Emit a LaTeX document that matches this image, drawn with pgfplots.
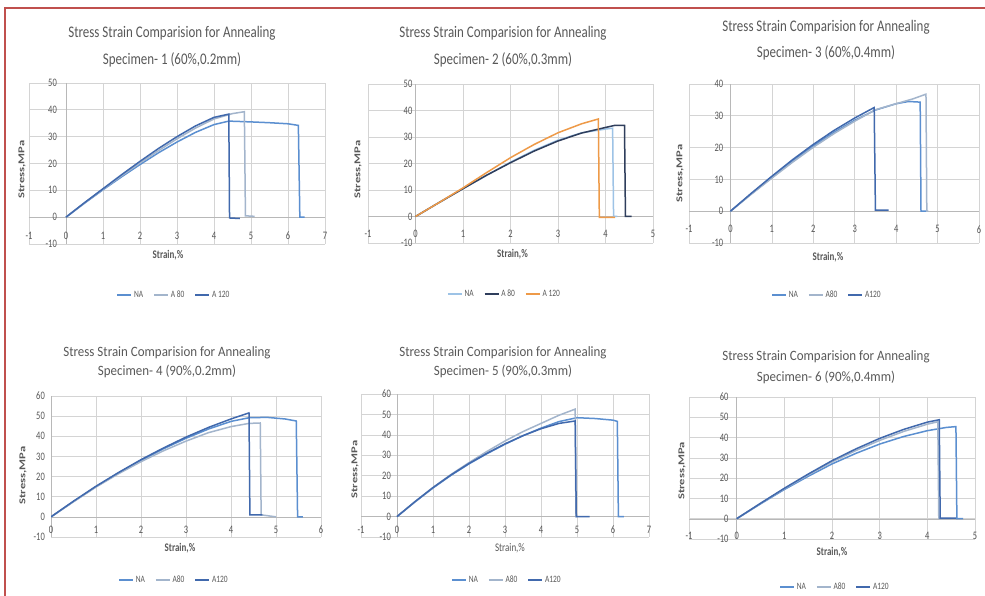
\documentclass[border=0pt]{standalone}
\usepackage{fontspec}
\setmainfont{Carlito}
\usepackage{graphicx}
\usepackage{pgfplots}
\pgfplotsset{compat=1.18}
\definecolor{gridgray}{HTML}{D4D4D4}
\definecolor{axisgray}{HTML}{B8B8B8}
\definecolor{txtgray}{HTML}{595959}
\definecolor{frame}{HTML}{C0504D}
\definecolor{bMed}{HTML}{5B8FD0}
\definecolor{bGray}{HTML}{A3B5CC}
\definecolor{bDark}{HTML}{4169AD}
\definecolor{nLight}{HTML}{9DC3E6}
\definecolor{nNavy}{HTML}{2F3E5C}
\definecolor{nOrange}{HTML}{EE9A48}
\pgfplotsset{
 panel/.style={
  scale only axis,
  axis lines=middle,
  axis line style={draw=axisgray,-},
  every inner x axis line/.append style={-},
  every inner y axis line/.append style={-},
  grid=major,
  major grid style={draw=gridgray,line width=0.7bp},
  major tick length=0pt,
  hide obscured x ticks=false, hide obscured y ticks=false,
  /pgf/number format/assume math mode=true,
  xticklabel={\scalebox{1}[1.35]{\pgfmathprintnumber{\tick}}},
  yticklabel={\scalebox{1}[1.35]{\pgfmathprintnumber{\tick}}},
  tick label style={font=\fontsize{8.5}{9}\selectfont, text=txtgray, inner sep=0pt},
  xticklabel style={anchor=center},
  yticklabel style={anchor=east},
  xlabel style={at={(rel axis cs:0.5,0)}, anchor=center, font=\bfseries\fontsize{9}{10}\selectfont, text=txtgray},
  ylabel style={at={(rel axis cs:0,0.5)}, anchor=center, font=\bfseries\fontsize{9}{10}\selectfont, text=txtgray},
  legend style={at={(rel axis cs:0.5,0)}, anchor=center, draw=none, fill=none, legend columns=3,
    font=\fontsize{7.5}{9}\selectfont, text=txtgray,
    /tikz/every even column/.append style={column sep=8bp}},
  legend image code/.code={\draw[#1,line width=1.6bp] (0bp,0bp) -- (14bp,0bp);},
  every axis plot/.append style={line width=1.5bp, mark=none},
  xlabel={\scalebox{1}[1.3]{Strain,\%}}, ylabel={\scalebox{1.4}[1]{Stress,MPa}},
 }
}
\newcommand{\tA}{Stress Strain Comparision for Annealing}
\newcommand{\lgd}[1]{\scalebox{1}[1.3]{#1}}
\begin{document}
\begin{tikzpicture}
\useasboundingbox (0bp,0bp) rectangle (985bp,596bp);
\fill[white] (0bp,0bp) rectangle (985bp,596bp);
\draw[frame,line width=1.5bp] (5bp,0bp) -- (5bp,588bp) -- (985bp,588bp);

% ---------- Panel 1 ----------
\node[font=\fontsize{13}{14}\selectfont,text=txtgray] at (172bp,563bp) {\scalebox{1}[1.25]{\tA}};
\node[font=\fontsize{13}{14}\selectfont,text=txtgray] at (172bp,536bp) {\scalebox{1}[1.25]{Specimen- 1 (60\%,0.2mm)}};
\begin{axis}[panel, at={(29bp,352bp)}, anchor=south west, width=296bp, height=161bp,
  xmin=-1,xmax=7,ymin=-10,ymax=50, xtick={-1,...,7}, ytick={-10,0,...,50},
  xticklabel style={yshift=-19bp}, yticklabel style={xshift=-9bp},
  xlabel style={xshift=-9bp,yshift=-11bp}, ylabel style={xshift=-7bp,yshift=-6bp,rotate=90},
  legend style={xshift=-3bp,yshift=-51bp}]
\addplot[bMed] coordinates {(0,0) (0.5,5.2) (1,10.2) (1.5,15) (2,19.6) (2.5,24) (3,28) (3.5,31.6) (4,34.5) (4.4,35.8) (5,35.5) (5.5,35.2) (6,34.8) (6.28,34.2) (6.32,0) (6.45,0)};
\addlegendentry{\lgd{NA}}
\addplot[bGray] coordinates {(0,0) (0.5,5.3) (1,10.4) (1.5,15.4) (2,20.2) (2.5,24.8) (3,29.2) (3.5,33.2) (4,36.6) (4.5,38.6) (4.82,39.3) (4.85,0.5) (5.1,0.3)};
\addlegendentry{\lgd{A 80}}
\addplot[bDark] coordinates {(0,0) (0.5,5.4) (1,10.6) (1.5,15.8) (2,20.8) (2.5,25.6) (3,30) (3.5,34) (4,37.2) (4.4,38.4) (4.42,-0.3) (4.7,-0.5)};
\addlegendentry{\lgd{A 120}}
\end{axis}

% ---------- Panel 2 ----------
\node[font=\fontsize{13}{14}\selectfont,text=txtgray] at (503bp,563bp) {\scalebox{1}[1.25]{\tA}};
\node[font=\fontsize{13}{14}\selectfont,text=txtgray] at (503bp,536bp) {\scalebox{1}[1.25]{Specimen- 2 (60\%,0.3mm)}};
\begin{axis}[panel, at={(368bp,353bp)}, anchor=south west, width=285bp, height=159bp,
  xmin=-1,xmax=5,ymin=-10,ymax=50, xtick={-1,...,5}, ytick={-10,0,...,50},
  xticklabel style={yshift=-17bp}, yticklabel style={xshift=-3bp},
  xlabel style={xshift=2bp,yshift=-11bp}, ylabel style={xshift=-10bp,yshift=-6bp,rotate=90},
  legend style={xshift=-6bp,yshift=-51bp}]
\addplot[nLight] coordinates {(0,0) (0.5,5.3) (1,10.5) (1.5,15.6) (2,20.5) (2.5,25) (3,28.8) (3.5,31.6) (4,33) (4.15,33.3) (4.17,0) (4.25,0)};
\addlegendentry{\lgd{NA}}
\addplot[nNavy] coordinates {(0,0) (0.5,5.3) (1,10.5) (1.5,15.6) (2,20.3) (2.5,24.7) (3,28.5) (3.5,31.5) (4,33.6) (4.2,34.4) (4.4,34.4) (4.42,0) (4.55,0)};
\addlegendentry{\lgd{A 80}}
\addplot[nOrange] coordinates {(0,0) (0.5,5.3) (1,10.8) (1.5,16.6) (2,22.2) (2.5,27.2) (3,31.6) (3.5,35) (3.85,36.8) (3.87,-0.3) (4.2,-0.3)};
\addlegendentry{\lgd{A 120}}
\end{axis}

% ---------- Panel 3 ----------
\node[font=\fontsize{13}{14}\selectfont,text=txtgray] at (826bp,569bp) {\scalebox{1}[1.25]{\tA}};
\node[font=\fontsize{13}{14}\selectfont,text=txtgray] at (826bp,543bp) {\scalebox{1}[1.25]{Specimen- 3 (60\%,0.4mm)}};
\begin{axis}[panel, at={(689bp,353bp)}, anchor=south west, width=290bp, height=159bp,
  xmin=-1,xmax=6,ymin=-10,ymax=40, xtick={-1,...,6}, ytick={-10,0,...,40},
  xticklabel style={yshift=-18bp}, yticklabel style={xshift=-7bp},
  xlabel style={xshift=-6bp,yshift=-14bp}, ylabel style={xshift=-9bp,yshift=-10bp,rotate=90},
  legend style={xshift=-7bp,yshift=-52bp}]
\addplot[bMed] coordinates {(0,0) (0.5,5.4) (1,10.6) (1.5,15.7) (2,20.5) (2.5,24.8) (3,28.6) (3.5,31.8) (4,33.8) (4.3,34.5) (4.58,34.3) (4.6,0) (4.72,0)};
\addlegendentry{\lgd{NA}}
\addplot[bGray] coordinates {(0,0) (0.5,5.3) (1,10.4) (1.5,15.4) (2,20.1) (2.5,24.4) (3,28.3) (3.5,31.9) (4,33.8) (4.4,35.3) (4.72,36.8) (4.74,0) (4.78,0)};
\addlegendentry{\lgd{A80}}
\addplot[bDark] coordinates {(0,0) (0.5,5.6) (1,11) (1.5,16.2) (2,21) (2.5,25.4) (3,29.3) (3.47,32.6) (3.5,0.3) (3.82,0.3)};
\addlegendentry{\lgd{A120}}
\end{axis}

% ---------- Panel 4 ----------
\node[font=\fontsize{13}{14}\selectfont,text=txtgray] at (167bp,243bp) {\scalebox{1}[1.1]{\tA}};
\node[font=\fontsize{13}{14}\selectfont,text=txtgray] at (167bp,225bp) {\scalebox{1}[1.1]{Specimen- 4 (90\%,0.2mm)}};
\begin{axis}[panel, at={(51bp,59bp)}, anchor=south west, width=270bp, height=141bp,
  xmin=0,xmax=6,ymin=-10,ymax=60, xtick={0,...,6}, ytick={-10,0,...,60},
  xticklabel style={yshift=-13bp}, yticklabel style={xshift=-6bp},
  xlabel style={xshift=-6bp,yshift=-11bp}, ylabel style={xshift=-28bp,yshift=-9bp,rotate=90},
  legend style={xshift=-12bp,yshift=-43bp}]
\addplot[bMed] coordinates {(0,0) (0.5,7.6) (1,15) (1.5,21.8) (2,28) (2.5,33.8) (3,39) (3.5,43.6) (4,47.4) (4.4,49.2) (4.8,49.4) (5.2,48.6) (5.45,47.6) (5.48,0) (5.6,0)};
\addlegendentry{\lgd{NA}}
\addplot[bGray] coordinates {(0,0) (0.5,7.5) (1,14.8) (1.5,21.4) (2,27.4) (2.5,32.8) (3,37.6) (3.5,41.8) (4,44.8) (4.4,46.4) (4.65,46.6) (4.67,1) (5,0)};
\addlegendentry{\lgd{A80}}
\addplot[bDark] coordinates {(0,0) (0.5,7.8) (1,15.2) (1.5,22) (2,28.4) (2.5,34.2) (3,39.6) (3.5,44.4) (4,48.6) (4.4,51.6) (4.42,1) (4.7,1)};
\addlegendentry{\lgd{A120}}
\end{axis}

% ---------- Panel 5 ----------
\node[font=\fontsize{13}{14}\selectfont,text=txtgray] at (503bp,243bp) {\scalebox{1}[1.1]{\tA}};
\node[font=\fontsize{13}{14}\selectfont,text=txtgray] at (503bp,225bp) {\scalebox{1}[1.1]{Specimen- 5 (90\%,0.3mm)}};
\begin{axis}[panel, at={(361bp,59bp)}, anchor=south west, width=288bp, height=143bp,
  xmin=-1,xmax=7,ymin=-10,ymax=60, xtick={-1,...,7}, ytick={-10,0,...,60},
  xticklabel style={yshift=-13bp}, yticklabel style={xshift=-6bp},
  xlabel style={xshift=5bp,yshift=-11bp,font=\fontsize{9}{10}\selectfont}, ylabel style={xshift=-6bp,yshift=-4bp,rotate=90},
  legend style={xshift=2bp,yshift=-43bp}]
\addplot[bMed] coordinates {(0,0) (0.5,7.2) (1,14) (1.5,20.2) (2,25.8) (2.5,30.8) (3,35.4) (3.5,39.6) (4,43.3) (4.5,46.5) (5,48.4) (5.5,48) (6,47.2) (6.12,46.6) (6.15,0) (6.3,0)};
\addlegendentry{\lgd{NA}}
\addplot[bGray] coordinates {(0,0) (0.5,7.3) (1,14.2) (1.5,20.6) (2,26.4) (2.5,31.9) (3,37) (3.5,41.6) (4,45.6) (4.5,49.6) (4.95,52.6) (4.97,0) (5,0)};
\addlegendentry{\lgd{A80}}
\addplot[bDark] coordinates {(0,0) (0.5,7.3) (1,14.2) (1.5,20.4) (2,26) (2.5,31) (3,35.6) (3.5,39.6) (4,43) (4.5,45.6) (4.95,46.8) (4.98,0) (5.35,0)};
\addlegendentry{\lgd{A120}}
\end{axis}

% ---------- Panel 6 ----------
\node[font=\fontsize{13}{14}\selectfont,text=txtgray] at (826bp,239bp) {\scalebox{1}[1.1]{\tA}};
\node[font=\fontsize{13}{14}\selectfont,text=txtgray] at (826bp,219bp) {\scalebox{1}[1.1]{Specimen- 6 (90\%,0.4mm)}};
\begin{axis}[panel, at={(689bp,57bp)}, anchor=south west, width=286bp, height=142bp,
  xmin=-1,xmax=5,ymin=-10,ymax=60, xtick={-1,...,5}, ytick={-10,0,...,60},
  xticklabel style={yshift=-17bp}, yticklabel style={xshift=-8bp},
  xlabel style={xshift=0bp,yshift=-13bp}, ylabel style={xshift=-7bp,yshift=-3bp,rotate=90},
  legend style={xshift=3bp,yshift=-48bp}]
\addplot[bMed] coordinates {(0,0) (0.5,7.3) (1,14.4) (1.5,20.9) (2,27) (2.5,32.2) (3,36.8) (3.5,40.5) (4,43.4) (4.4,45) (4.6,45.4) (4.62,0) (4.75,0)};
\addlegendentry{\lgd{NA}}
\addplot[bGray] coordinates {(0,0) (0.5,7.5) (1,14.8) (1.5,21.6) (2,28) (2.5,33.6) (3,38.6) (3.5,43) (4,46.6) (4.22,47.8) (4.24,0) (4.5,0)};
\addlegendentry{\lgd{A80}}
\addplot[bDark] coordinates {(0,0) (0.5,7.6) (1,15) (1.5,22) (2,28.6) (2.5,34.4) (3,39.6) (3.5,44) (4,47.6) (4.25,48.8) (4.27,0.3) (4.6,0.3)};
\addlegendentry{\lgd{A120}}
\end{axis}
\end{tikzpicture}
\end{document}
